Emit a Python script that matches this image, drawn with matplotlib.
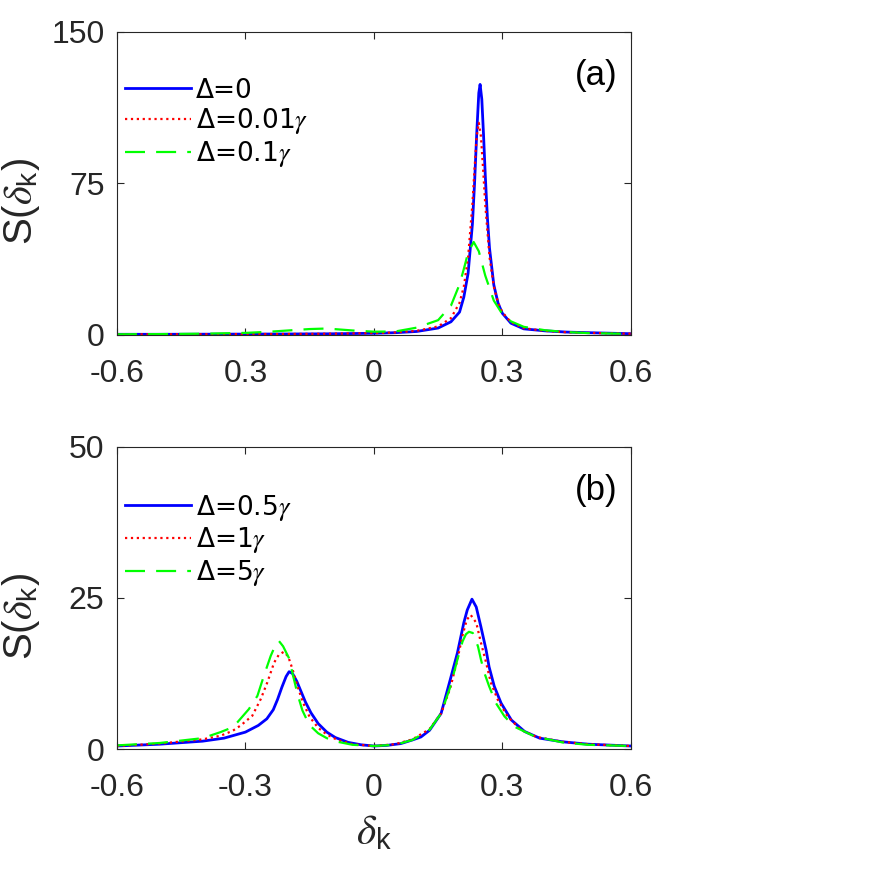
import matplotlib
matplotlib.use("Agg")
import matplotlib.pyplot as plt

plt.rcParams['font.family'] = ['Liberation Sans', 'DejaVu Sans']
plt.rcParams['mathtext.fontset'] = 'custom'
plt.rcParams['mathtext.rm'] = 'Liberation Sans'
plt.rcParams['mathtext.it'] = 'STIXGeneral:italic'

# ---------------- panel (a) ----------------
a_labels = ['Δ=0', 'Δ=0.01$\\gamma$', 'Δ=0.1$\\gamma$']
a_x0 = [-0.6, -0.5, -0.4, -0.3, -0.2, -0.1, 0.0, 0.05, 0.1, 0.15, 0.18, 0.2, 0.21, 0.22,
        0.23, 0.235, 0.24, 0.245, 0.248, 0.252, 0.256, 0.26, 0.265, 0.27, 0.28, 0.29,
        0.3, 0.32, 0.35, 0.4, 0.45, 0.5, 0.6]
a_y0 = [0.3, 0.3, 0.35, 0.4, 0.45, 0.55, 0.8, 1.1, 1.7, 3.4, 6.5, 11.3, 18.7, 30.5,
        54.7, 74.7, 99.2, 119.8, 124.0, 116.7, 99.2, 79.4, 58.2, 42.9, 24.8, 15.7,
        10.7, 5.8, 3.0, 2.0, 1.4, 1.1, 0.6]
a_x1 = [-0.6, -0.5, -0.4, -0.3, -0.2, -0.1, 0.0, 0.05, 0.1, 0.15, 0.18, 0.2, 0.21, 0.22,
        0.23, 0.235, 0.24, 0.245, 0.25, 0.255, 0.26, 0.27, 0.28, 0.29, 0.3, 0.32, 0.35,
        0.4, 0.45, 0.5, 0.6]
a_y1 = [0.3, 0.3, 0.35, 0.4, 0.45, 0.6, 0.9, 1.2, 2.0, 4.2, 8.3, 15.9, 23.9, 38.5,
        64.7, 82.2, 98.2, 105.0, 98.2, 82.2, 64.7, 38.5, 23.9, 15.9, 11.2, 6.3, 3.3,
        2.0, 1.3, 1.0, 0.6]
a_x2 = [-0.6, -0.5, -0.4, -0.3, -0.25, -0.2, -0.15, -0.12, -0.1, -0.05, 0.0, 0.05, 0.1,
        0.15, 0.18, 0.2, 0.21, 0.22, 0.233, 0.245, 0.26, 0.28, 0.3, 0.32, 0.35, 0.4,
        0.45, 0.5, 0.6]
a_y2 = [0.3, 0.4, 0.6, 1.0, 1.5, 2.2, 2.9, 3.1, 3.0, 2.2, 1.6, 1.7, 3.6, 7.3, 14.5,
        25.0, 32.6, 40.7, 46.0, 41.4, 29.4, 17.0, 10.3, 6.7, 4.0, 2.3, 1.4, 0.9, 0.5]
a_yticks = [0, 75, 150]
a_xticklabels = ['-0.6', '0.3', '0', '0.3', '0.6']

# ---------------- panel (b) ----------------
b_labels = ['Δ=0.5$\\gamma$', 'Δ=1$\\gamma$', 'Δ=5$\\gamma$']
b_x0 = [-0.6, -0.5, -0.4, -0.35, -0.3, -0.27, -0.25, -0.235, -0.225, -0.215, -0.205,
        -0.198, -0.19, -0.18, -0.17, -0.16, -0.147, -0.13, -0.11, -0.09, -0.06, -0.03,
        0.0, 0.03, 0.063, 0.09, 0.11, 0.13, 0.157, 0.178, 0.195, 0.21, 0.218, 0.229,
        0.239, 0.25, 0.262, 0.269, 0.281, 0.297, 0.321, 0.352, 0.387, 0.44, 0.5, 0.6]
b_y0 = [0.5, 0.8, 1.3, 1.8, 2.8, 3.9, 5.0, 6.5, 8.2, 10.2, 12.0, 12.8, 12.5, 11.2, 9.5,
        7.8, 6.0, 4.2, 2.8, 1.9, 1.1, 0.7, 0.5, 0.6, 0.9, 1.5, 2.0, 3.1, 5.9, 11.4,
        15.9, 20.9, 23.0, 24.8, 23.5, 20.2, 16.4, 13.6, 10.4, 7.6, 4.8, 2.9, 1.8, 1.2,
        0.8, 0.5]
b_x1 = [-0.6, -0.5, -0.4, -0.358, -0.33, -0.311, -0.284, -0.264, -0.249, -0.233, -0.222,
        -0.21, -0.2, -0.19, -0.178, -0.165, -0.15, -0.13, -0.11, -0.085, -0.05, 0.0,
        0.05, 0.09, 0.13, 0.157, 0.178, 0.194, 0.207, 0.217, 0.226, 0.239, 0.25, 0.262,
        0.273, 0.289, 0.312, 0.343, 0.38, 0.44, 0.5, 0.6]
b_y1 = [0.5, 0.9, 1.6, 2.2, 3.0, 3.9, 5.5, 8.3, 11.0, 14.3, 15.6, 16.1, 15.3, 13.2, 10.3,
        7.6, 5.3, 3.5, 2.4, 1.5, 0.8, 0.5, 0.8, 1.6, 3.3, 5.9, 10.0, 14.5, 18.8, 21.4,
        22.2, 20.9, 17.6, 14.3, 11.0, 8.2, 5.4, 3.2, 2.0, 1.2, 0.8, 0.5]
b_x2 = [-0.6, -0.5, -0.4, -0.358, -0.33, -0.319, -0.292, -0.272, -0.257, -0.241, -0.23,
        -0.222, -0.212, -0.198, -0.19, -0.178, -0.167, -0.151, -0.13, -0.11, -0.085,
        -0.05, 0.0, 0.05, 0.09, 0.13, 0.157, 0.178, 0.195, 0.207, 0.215, 0.222, 0.231,
        0.243, 0.25, 0.258, 0.269, 0.285, 0.305, 0.328, 0.375, 0.44, 0.5, 0.6]
b_y2 = [0.6, 1.0, 1.8, 2.8, 3.6, 4.4, 6.6, 8.8, 12.1, 15.4, 17.2, 17.9, 17.0, 15.0, 12.5,
        9.0, 6.4, 4.0, 2.6, 1.8, 1.2, 0.7, 0.5, 0.7, 1.5, 3.2, 5.9, 10.2, 14.8, 17.8,
        19.0, 19.4, 19.2, 17.0, 14.8, 12.6, 10.4, 7.6, 5.4, 3.7, 2.1, 1.1, 0.7, 0.5]
b_yticks = [0, 25, 50]
b_xticklabels = ['-0.6', '-0.3', '0', '0.3', '0.6']

xticks = [-0.6, -0.3, 0, 0.3, 0.6]
colors = ['#0000ff', '#ff0000', '#00ff00']
styles = ['-', ':', (0, (9, 5))]
ylabel = r'S($\delta_{\mathrm{k}}$)'

fig = plt.figure(figsize=(8.86, 8.86), dpi=100)
axA = fig.add_axes([0.132, 0.622, 0.580, 0.342])
axB = fig.add_axes([0.132, 0.1546, 0.580, 0.341])

panels = [
    (axA, [(a_x0, a_y0), (a_x1, a_y1), (a_x2, a_y2)], a_labels, a_yticks, a_xticklabels, '(a)'),
    (axB, [(b_x0, b_y0), (b_x1, b_y1), (b_x2, b_y2)], b_labels, b_yticks, b_xticklabels, '(b)'),
]

for ax, series, labels, yt, xtl, tag in panels:
    for (xs, ys), c, ls, lab in zip(series, colors, styles, labels):
        lw = 2.0 if ls == '-' else 1.6
        ax.plot(xs, ys, color=c, linestyle=ls, linewidth=lw, label=lab)
    ax.set_xlim(-0.6, 0.6)
    ax.set_ylim(yt[0], yt[-1])
    ax.set_xticks(xticks)
    ax.set_xticklabels(xtl)
    ax.set_yticks(yt)
    ax.set_yticklabels([str(v) for v in yt])
    ax.tick_params(direction='in', top=True, right=True, length=5, width=0.8,
                   labelsize=23, colors='#262626')
    ax.tick_params(axis='x', pad=17)
    ax.tick_params(axis='y', pad=9)
    for sp in ax.spines.values():
        sp.set_color('#262626')
        sp.set_linewidth(0.8)
    ax.set_ylabel(ylabel, fontsize=29, color='#262626')
    ax.yaxis.set_label_coords(-0.145, 0.44)
    ax.text(0.975, 0.855, tag, transform=ax.transAxes, fontsize=25, ha='right',
            va='center', color='black')
    leg = ax.legend(loc='upper left', bbox_to_anchor=(0.0, 0.875), frameon=False,
                    prop={'family': 'DejaVu Sans', 'size': 19},
                    handlelength=2.5, handletextpad=0.2,
                    labelspacing=0.1, borderaxespad=0.0, borderpad=0.3)

axB.set_xlabel(r'$\delta_{\mathrm{k}}$', fontsize=30, color='#262626', labelpad=8)

fig.savefig('out.png', dpi=100, facecolor='white')
